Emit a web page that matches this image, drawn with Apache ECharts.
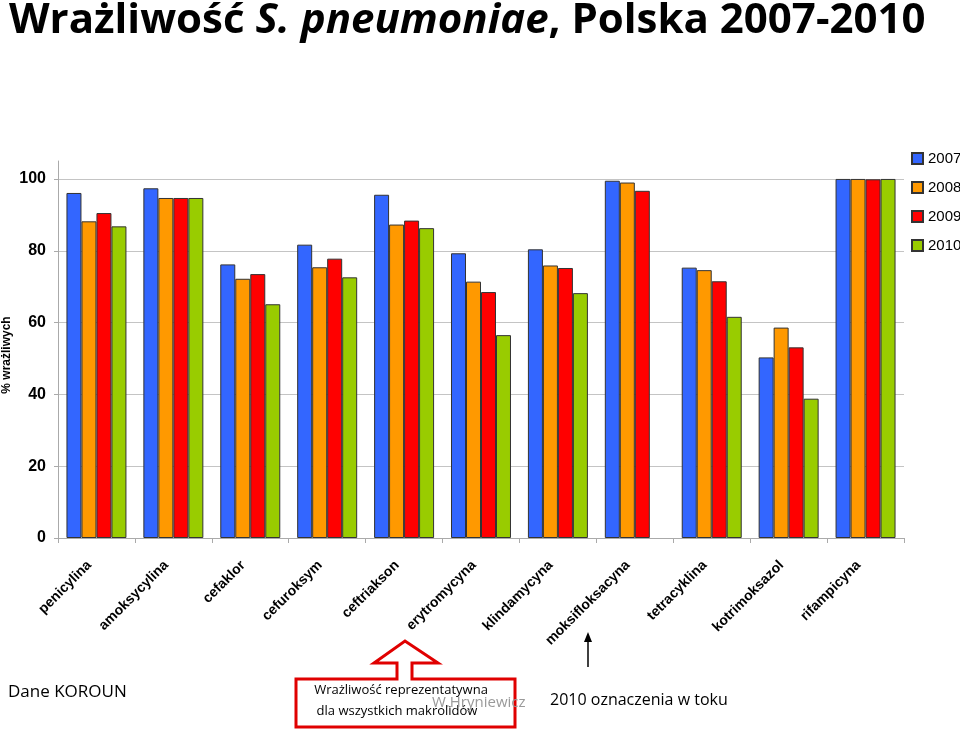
<!DOCTYPE html>
<html>
<head>
<meta charset="utf-8">
<script src="https://cdn.jsdelivr.net/npm/echarts@6/dist/echarts.min.js"></script>
<style>
  html, body { margin: 0; padding: 0; background: #fff; }
  #chart { width: 960px; height: 729px; }
</style>
</head>
<body>
<div id="chart"></div>
<script>
var categories = ["penicylina", "amoksycylina", "cefaklor", "cefuroksym", "ceftriakson",
  "erytromycyna", "klindamycyna", "moksifloksacyna", "tetracyklina", "kotrimoksazol", "rifampicyna"];
var years = ["2007", "2008", "2009", "2010"];
var v2007 = [96.1, 97.4, 76.2, 81.7, 95.6, 79.3, 80.4, 99.5, 75.3, 50.3, 100];
var v2008 = [88.2, 94.7, 72.2, 75.4, 87.3, 71.4, 75.9, 99.0, 74.6, 58.6, 100];
var v2009 = [90.5, 94.7, 73.5, 77.8, 88.4, 68.5, 75.2, 96.7, 71.5, 53.1, 99.9];
var v2010 = [86.8, 94.7, 65.1, 72.6, 86.3, 56.5, 68.2, null, 61.6, 38.8, 100];
var colors = ["#3366ff", "#ff9900", "#ff0000", "#99cc00"];

var chart = echarts.init(document.getElementById("chart"));
var values = [v2007, v2008, v2009, v2010];
var series = [];
for (var i = 0; i < years.length; i++) {
  series.push({
    name: years[i],
    type: "bar",
    data: values[i],
    barGap: "0%",
    barCategoryGap: "22%",
    itemStyle: { color: colors[i], borderColor: "#333", borderWidth: 1 }
  });
}

var option = {
  animation: false,
  title: {
    text: "{a|Wrażliwość }{b|S. pneumoniae}{a|, Polska 2007-2010}",
    left: 4,
    top: -5,
    textStyle: {
      rich: {
        a: { fontFamily: "Open Sans", fontWeight: "bold", fontSize: 42, color: "#000" },
        b: { fontFamily: "Open Sans", fontWeight: "bold", fontStyle: "italic", fontSize: 42, color: "#000" }
      }
    }
  },
  legend: {
    orient: "vertical",
    left: 911,
    top: 151,
    padding: 0,
    itemWidth: 11,
    itemHeight: 11,
    itemGap: 14,
    icon: "rect",
    data: years,
    textStyle: { fontFamily: "Liberation Sans", fontSize: 15, color: "#000" }
  },
  grid: { left: 58, right: 56, top: 161, bottom: 191, outerBoundsMode: "none" },
  xAxis: {
    type: "category",
    data: categories,
    axisLine: { lineStyle: { color: "#aaa" } },
    axisTick: { show: true, length: 5, lineStyle: { color: "#aaa" } },
    axisLabel: {
      rotate: 45,
      interval: 0,
      margin: 18,
      padding: [0, 10, 0, 0],
      fontFamily: "Liberation Sans",
      fontWeight: "bold",
      fontSize: 14,
      color: "#000"
    }
  },
  yAxis: {
    type: "value",
    min: 0,
    max: 105,
    interval: 20,
    axisLine: { show: true, lineStyle: { color: "#aaa" } },
    axisTick: { show: true, length: 4, lineStyle: { color: "#aaa" } },
    splitLine: { show: true, showMaxLine: false, lineStyle: { color: "#c4c4c4" } },
    axisLabel: {
      margin: 12,
      fontFamily: "Liberation Sans",
      fontWeight: "bold",
      fontSize: 16,
      color: "#000",
      showMaxLabel: false,
      formatter: function (v) { return v % 20 === 0 ? v : ""; }
    }
  },
  series: series,
  graphic: [
    {
      // y axis title
      type: "text", x: 7, y: 355, rotation: Math.PI / 2,
      style: { text: "% wrażliwych", fontFamily: "Liberation Sans", fontWeight: "bold", fontSize: 12,
        fill: "#000", align: "center", verticalAlign: "middle" }
    },
    {
      type: "text", left: 8, top: 684,
      style: { text: "Dane KOROUN", fontFamily: "Open Sans", fontSize: 17, fill: "#000" }
    },
    {
      type: "polygon",
      shape: { points: [[296, 679], [397, 679], [397, 663], [374, 663], [405, 641], [438, 663],
        [412, 663], [412, 679], [515, 679], [515, 727], [296, 727]] },
      style: { fill: "#fff", stroke: "#e00000", lineWidth: 3 }
    },
    {
      type: "text", x: 401, y: 690,
      style: { text: "Wrażliwość reprezentatywna", fontFamily: "Open Sans", fontSize: 13,
        fill: "#000", align: "center", verticalAlign: "middle" }
    },
    {
      type: "text", x: 397, y: 711,
      style: { text: "dla wszystkich makrolidów", fontFamily: "Open Sans", fontSize: 13,
        fill: "#000", align: "center", verticalAlign: "middle" }
    },
    {
      type: "text", x: 432, y: 703,
      style: { text: "W.Hryniewicz", fontFamily: "Open Sans", fontSize: 15,
        fill: "#9a9a9a", verticalAlign: "middle" }
    },
    {
      type: "text", x: 550, y: 700,
      style: { text: "2010 oznaczenia w toku", fontFamily: "Open Sans", fontSize: 16,
        fill: "#000", verticalAlign: "middle" }
    },
    {
      type: "line",
      shape: { x1: 588, y1: 667, x2: 588, y2: 640 },
      style: { stroke: "#000", lineWidth: 1.5 }
    },
    {
      type: "polygon",
      shape: { points: [[588, 632], [584, 642], [592, 642]] },
      style: { fill: "#000" }
    }
  ]
};
chart.setOption(option);
</script>
</body>
</html>
